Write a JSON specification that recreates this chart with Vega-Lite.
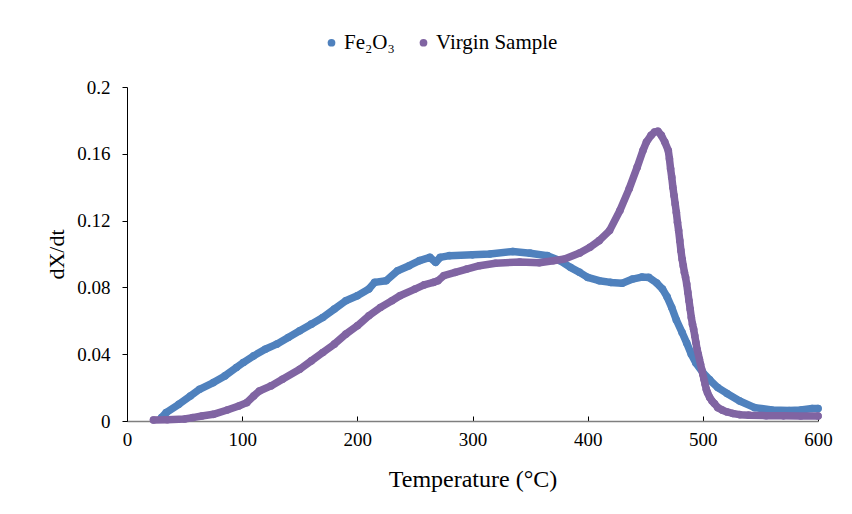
{
  "$schema": "https://vega.github.io/schema/vega-lite/v6.json",
  "width": 691,
  "height": 334,
  "autosize": {"type": "none"},
  "padding": {"left": 127, "top": 87, "right": 34, "bottom": 93},
  "background": "white",
  "config": {
    "view": {"stroke": null},
    "font": "Liberation Serif",
    "axis": {"labelFont": "Liberation Serif", "titleFont": "Liberation Serif", "labelColor": "#000", "titleColor": "#000", "grid": false, "titleFontWeight": "normal"},
    "legend": {"labelFont": "Liberation Serif", "symbolType": "circle"}
  },
  "data": {
    "values": [
      {"series": "Fe₂O₃", "T": 30, "v": 0.002},
      {"series": "Fe₂O₃", "T": 34, "v": 0.005},
      {"series": "Fe₂O₃", "T": 45, "v": 0.010},
      {"series": "Fe₂O₃", "T": 55, "v": 0.015},
      {"series": "Fe₂O₃", "T": 63, "v": 0.019},
      {"series": "Fe₂O₃", "T": 75, "v": 0.023},
      {"series": "Fe₂O₃", "T": 85, "v": 0.027},
      {"series": "Fe₂O₃", "T": 95, "v": 0.032},
      {"series": "Fe₂O₃", "T": 101, "v": 0.035},
      {"series": "Fe₂O₃", "T": 110, "v": 0.039},
      {"series": "Fe₂O₃", "T": 120, "v": 0.043},
      {"series": "Fe₂O₃", "T": 130, "v": 0.046},
      {"series": "Fe₂O₃", "T": 140, "v": 0.050},
      {"series": "Fe₂O₃", "T": 150, "v": 0.054},
      {"series": "Fe₂O₃", "T": 160, "v": 0.058},
      {"series": "Fe₂O₃", "T": 170, "v": 0.062},
      {"series": "Fe₂O₃", "T": 180, "v": 0.067},
      {"series": "Fe₂O₃", "T": 190, "v": 0.072},
      {"series": "Fe₂O₃", "T": 200, "v": 0.075},
      {"series": "Fe₂O₃", "T": 210, "v": 0.079},
      {"series": "Fe₂O₃", "T": 215, "v": 0.083},
      {"series": "Fe₂O₃", "T": 225, "v": 0.084},
      {"series": "Fe₂O₃", "T": 235, "v": 0.090},
      {"series": "Fe₂O₃", "T": 245, "v": 0.093},
      {"series": "Fe₂O₃", "T": 254, "v": 0.096},
      {"series": "Fe₂O₃", "T": 263, "v": 0.098},
      {"series": "Fe₂O₃", "T": 268, "v": 0.095},
      {"series": "Fe₂O₃", "T": 272, "v": 0.098},
      {"series": "Fe₂O₃", "T": 280, "v": 0.099},
      {"series": "Fe₂O₃", "T": 300, "v": 0.0995},
      {"series": "Fe₂O₃", "T": 315, "v": 0.100},
      {"series": "Fe₂O₃", "T": 335, "v": 0.1015},
      {"series": "Fe₂O₃", "T": 350, "v": 0.1005},
      {"series": "Fe₂O₃", "T": 365, "v": 0.099},
      {"series": "Fe₂O₃", "T": 376, "v": 0.096},
      {"series": "Fe₂O₃", "T": 385, "v": 0.092},
      {"series": "Fe₂O₃", "T": 393, "v": 0.089},
      {"series": "Fe₂O₃", "T": 400, "v": 0.086},
      {"series": "Fe₂O₃", "T": 410, "v": 0.084},
      {"series": "Fe₂O₃", "T": 420, "v": 0.083},
      {"series": "Fe₂O₃", "T": 430, "v": 0.0825},
      {"series": "Fe₂O₃", "T": 439, "v": 0.085},
      {"series": "Fe₂O₃", "T": 447, "v": 0.0862},
      {"series": "Fe₂O₃", "T": 453, "v": 0.086},
      {"series": "Fe₂O₃", "T": 460, "v": 0.0826},
      {"series": "Fe₂O₃", "T": 465, "v": 0.079},
      {"series": "Fe₂O₃", "T": 469, "v": 0.0743},
      {"series": "Fe₂O₃", "T": 473, "v": 0.068},
      {"series": "Fe₂O₃", "T": 477, "v": 0.0605},
      {"series": "Fe₂O₃", "T": 482, "v": 0.053},
      {"series": "Fe₂O₃", "T": 486, "v": 0.0467},
      {"series": "Fe₂O₃", "T": 490, "v": 0.040},
      {"series": "Fe₂O₃", "T": 494, "v": 0.0347},
      {"series": "Fe₂O₃", "T": 500, "v": 0.029},
      {"series": "Fe₂O₃", "T": 506, "v": 0.0246},
      {"series": "Fe₂O₃", "T": 513, "v": 0.020},
      {"series": "Fe₂O₃", "T": 521, "v": 0.0165},
      {"series": "Fe₂O₃", "T": 532, "v": 0.012},
      {"series": "Fe₂O₃", "T": 545, "v": 0.008},
      {"series": "Fe₂O₃", "T": 560, "v": 0.0066},
      {"series": "Fe₂O₃", "T": 575, "v": 0.0063},
      {"series": "Fe₂O₃", "T": 585, "v": 0.0066},
      {"series": "Fe₂O₃", "T": 595, "v": 0.0075},
      {"series": "Fe₂O₃", "T": 600, "v": 0.0075},
      {"series": "Virgin Sample", "T": 23, "v": 0.0006},
      {"series": "Virgin Sample", "T": 35, "v": 0.0008},
      {"series": "Virgin Sample", "T": 50, "v": 0.0012},
      {"series": "Virgin Sample", "T": 57, "v": 0.002},
      {"series": "Virgin Sample", "T": 65, "v": 0.003},
      {"series": "Virgin Sample", "T": 75, "v": 0.004},
      {"series": "Virgin Sample", "T": 87, "v": 0.0066},
      {"series": "Virgin Sample", "T": 97, "v": 0.009},
      {"series": "Virgin Sample", "T": 104, "v": 0.011},
      {"series": "Virgin Sample", "T": 110, "v": 0.015},
      {"series": "Virgin Sample", "T": 115, "v": 0.018},
      {"series": "Virgin Sample", "T": 125, "v": 0.021},
      {"series": "Virgin Sample", "T": 135, "v": 0.025},
      {"series": "Virgin Sample", "T": 150, "v": 0.031},
      {"series": "Virgin Sample", "T": 160, "v": 0.036},
      {"series": "Virgin Sample", "T": 170, "v": 0.041},
      {"series": "Virgin Sample", "T": 180, "v": 0.046},
      {"series": "Virgin Sample", "T": 190, "v": 0.052},
      {"series": "Virgin Sample", "T": 200, "v": 0.057},
      {"series": "Virgin Sample", "T": 210, "v": 0.063},
      {"series": "Virgin Sample", "T": 220, "v": 0.068},
      {"series": "Virgin Sample", "T": 230, "v": 0.072},
      {"series": "Virgin Sample", "T": 237, "v": 0.075},
      {"series": "Virgin Sample", "T": 250, "v": 0.079},
      {"series": "Virgin Sample", "T": 258, "v": 0.0815},
      {"series": "Virgin Sample", "T": 266, "v": 0.083},
      {"series": "Virgin Sample", "T": 270, "v": 0.084},
      {"series": "Virgin Sample", "T": 275, "v": 0.087},
      {"series": "Virgin Sample", "T": 285, "v": 0.089},
      {"series": "Virgin Sample", "T": 295, "v": 0.091},
      {"series": "Virgin Sample", "T": 306, "v": 0.093},
      {"series": "Virgin Sample", "T": 320, "v": 0.0945},
      {"series": "Virgin Sample", "T": 341, "v": 0.0952},
      {"series": "Virgin Sample", "T": 358, "v": 0.0948},
      {"series": "Virgin Sample", "T": 370, "v": 0.096},
      {"series": "Virgin Sample", "T": 380, "v": 0.097},
      {"series": "Virgin Sample", "T": 393, "v": 0.1006},
      {"series": "Virgin Sample", "T": 402, "v": 0.104},
      {"series": "Virgin Sample", "T": 410, "v": 0.108},
      {"series": "Virgin Sample", "T": 419, "v": 0.114},
      {"series": "Virgin Sample", "T": 428, "v": 0.126},
      {"series": "Virgin Sample", "T": 436, "v": 0.139},
      {"series": "Virgin Sample", "T": 443, "v": 0.152},
      {"series": "Virgin Sample", "T": 448, "v": 0.162},
      {"series": "Virgin Sample", "T": 451, "v": 0.167},
      {"series": "Virgin Sample", "T": 455, "v": 0.171},
      {"series": "Virgin Sample", "T": 458, "v": 0.173},
      {"series": "Virgin Sample", "T": 461, "v": 0.1735},
      {"series": "Virgin Sample", "T": 464, "v": 0.171},
      {"series": "Virgin Sample", "T": 467, "v": 0.167},
      {"series": "Virgin Sample", "T": 470, "v": 0.162},
      {"series": "Virgin Sample", "T": 471, "v": 0.157},
      {"series": "Virgin Sample", "T": 472, "v": 0.151},
      {"series": "Virgin Sample", "T": 473, "v": 0.146},
      {"series": "Virgin Sample", "T": 474, "v": 0.140},
      {"series": "Virgin Sample", "T": 475, "v": 0.135},
      {"series": "Virgin Sample", "T": 476, "v": 0.130},
      {"series": "Virgin Sample", "T": 477, "v": 0.125},
      {"series": "Virgin Sample", "T": 478, "v": 0.119},
      {"series": "Virgin Sample", "T": 479, "v": 0.114},
      {"series": "Virgin Sample", "T": 480, "v": 0.108},
      {"series": "Virgin Sample", "T": 481, "v": 0.102},
      {"series": "Virgin Sample", "T": 482, "v": 0.097},
      {"series": "Virgin Sample", "T": 483, "v": 0.093},
      {"series": "Virgin Sample", "T": 484, "v": 0.089},
      {"series": "Virgin Sample", "T": 485, "v": 0.086},
      {"series": "Virgin Sample", "T": 486, "v": 0.082},
      {"series": "Virgin Sample", "T": 487, "v": 0.077},
      {"series": "Virgin Sample", "T": 488, "v": 0.072},
      {"series": "Virgin Sample", "T": 489, "v": 0.067},
      {"series": "Virgin Sample", "T": 490, "v": 0.062},
      {"series": "Virgin Sample", "T": 491, "v": 0.058},
      {"series": "Virgin Sample", "T": 492, "v": 0.055},
      {"series": "Virgin Sample", "T": 493, "v": 0.051},
      {"series": "Virgin Sample", "T": 494, "v": 0.047},
      {"series": "Virgin Sample", "T": 495, "v": 0.043},
      {"series": "Virgin Sample", "T": 496, "v": 0.040},
      {"series": "Virgin Sample", "T": 497, "v": 0.037},
      {"series": "Virgin Sample", "T": 498, "v": 0.034},
      {"series": "Virgin Sample", "T": 499, "v": 0.031},
      {"series": "Virgin Sample", "T": 500, "v": 0.028},
      {"series": "Virgin Sample", "T": 501, "v": 0.025},
      {"series": "Virgin Sample", "T": 502, "v": 0.022},
      {"series": "Virgin Sample", "T": 503, "v": 0.019},
      {"series": "Virgin Sample", "T": 504, "v": 0.017},
      {"series": "Virgin Sample", "T": 506, "v": 0.014},
      {"series": "Virgin Sample", "T": 508, "v": 0.012},
      {"series": "Virgin Sample", "T": 510, "v": 0.0105},
      {"series": "Virgin Sample", "T": 513, "v": 0.008},
      {"series": "Virgin Sample", "T": 517, "v": 0.0065},
      {"series": "Virgin Sample", "T": 521, "v": 0.0054},
      {"series": "Virgin Sample", "T": 526, "v": 0.0045},
      {"series": "Virgin Sample", "T": 532, "v": 0.0038},
      {"series": "Virgin Sample", "T": 540, "v": 0.0035},
      {"series": "Virgin Sample", "T": 555, "v": 0.0032},
      {"series": "Virgin Sample", "T": 570, "v": 0.0031},
      {"series": "Virgin Sample", "T": 585, "v": 0.003},
      {"series": "Virgin Sample", "T": 600, "v": 0.003}
    ]
  },
  "encoding": {
    "x": {
      "field": "T", "type": "quantitative",
      "scale": {"domain": [0, 600], "nice": false, "zero": false},
      "axis": {
        "title": "Temperature (°C)", "values": [0, 100, 200, 300, 400, 500, 600],
        "labelFontSize": 19, "titleFontSize": 24, "tickSize": -5, "tickColor": "#000",
        "domainColor": "#7f7f7f", "domainWidth": 1.5, "labelPadding": 14, "titlePadding": 18, "labelFlush": false
      }
    },
    "y": {
      "field": "v", "type": "quantitative",
      "scale": {"domain": [0, 0.2], "nice": false},
      "axis": {
        "title": "dX/dt", "values": [0, 0.04, 0.08, 0.12, 0.16, 0.2],
        "labelExpr": "'' + datum.value",
        "labelFontSize": 19, "titleFontSize": 22, "tickSize": 5, "tickColor": "#000",
        "domainColor": "#000", "labelPadding": 12, "titlePadding": 8, "labelFlush": false
      }
    },
    "color": {
      "field": "series", "type": "nominal",
      "scale": {"domain": ["Fe₂O₃", "Virgin Sample"], "range": ["#4F81BD", "#8064A2"]},
      "legend": {
        "title": null, "orient": "none", "direction": "horizontal",
        "legendX": 194, "legendY": -55, "padding": 0,
        "labelFontSize": 21, "symbolSize": 60, "symbolType": "circle",
        "symbolStrokeWidth": 0, "columnPadding": 18, "labelOffset": 2, "labelColor": "#000"
      }
    }
  },
  "layer": [
    {
      "mark": {"type": "point", "shape": "circle", "filled": true, "opacity": 1, "size": 58}
    },
    {
      "mark": {"type": "line", "strokeWidth": 7.5, "strokeCap": "round", "strokeJoin": "round"}
    }
  ]
}
